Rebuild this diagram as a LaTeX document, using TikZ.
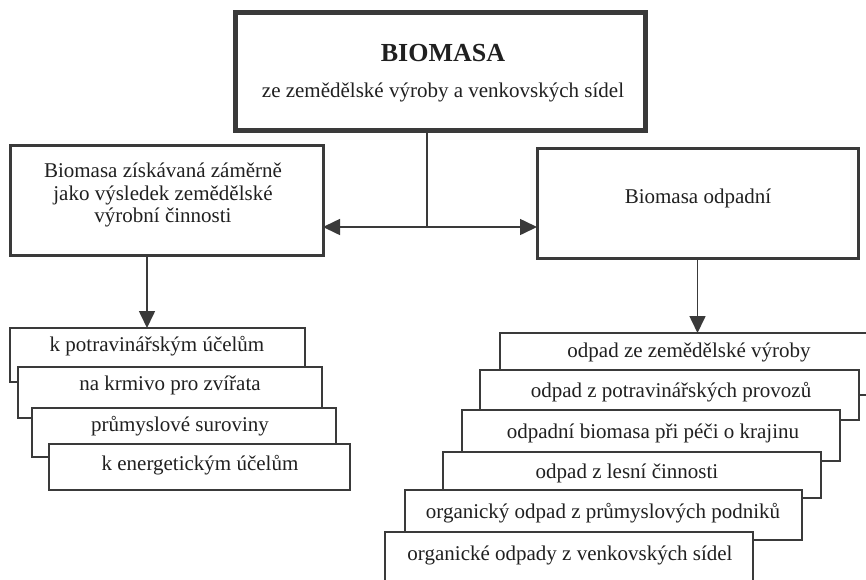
\documentclass[tikz,border=0pt]{standalone}
\usepackage{fontspec}
\setmainfont{Liberation Serif}
\usetikzlibrary{arrows.meta}
\definecolor{ink}{HTML}{3A3A3A}
\definecolor{txt}{HTML}{202020}
\tikzset{
  boxbase/.style={rectangle, draw=ink, fill=white, inner sep=0pt, outer sep=0pt},
  topbox/.style={boxbase, line width=5pt},
  midbox/.style={boxbase, line width=3pt},
  stackbox/.style={boxbase, line width=1.4pt},
  lbl/.style={text=txt, inner sep=0pt, font=\fontsize{21}{22.5}\selectfont, align=center},
  conn/.style={draw=ink, line width=1.6pt},
  arr/.style={conn, -{Triangle[length=17pt,width=16pt]}}
}
\newcommand{\boxat}[6]{\node[#1, minimum width={#4-#2}, minimum height={#5-#3}] (#6) at ({(#2+#4)/2},{(#3+#5)/2}) {};}
\begin{document}
\begin{tikzpicture}[x=1pt,y=-1pt]
\useasboundingbox[fill=white] (0,0) rectangle (866,579);
% top box
\boxat{topbox}{235}{12}{645}{130}{top}
\node[lbl, font=\fontsize{26}{28}\selectfont\bfseries] (topt) at (443,53) {BIOMASA};
\node[lbl] (tops) at (443,92) {ze zemědělské výroby a venkovských sídel};
% middle boxes
\boxat{midbox}{10}{145}{323}{255}{L}
\node[lbl] (Lt) at (163,195) {Biomasa získávaná záměrně\\jako výsledek zemědělské\\výrobní činnosti};
\boxat{midbox}{537}{148}{858}{258}{R}
\node[lbl] (Rt) at (698,198) {Biomasa odpadní};
% junction
\coordinate (J) at (427,227);
\draw[conn] (top.south -| J) -- (J);
\draw[arr] (J) -- (J -| L.east);
\draw[arr] (J) -- (J -| R.west);
% left stack
\boxat{stackbox}{10}{328}{305}{382}{l1}
\node[lbl] (l1t) at (157,346) {k potravinářským účelům};
\boxat{stackbox}{18}{367}{322}{418}{l2}
\node[lbl] (l2t) at (170,385) {na krmivo pro zvířata};
\boxat{stackbox}{32}{408}{336}{457}{l3}
\node[lbl] (l3t) at (180,426) {průmyslové suroviny};
\boxat{stackbox}{49}{444}{350}{490}{l4}
\node[lbl] (l4t) at (200,465) {k energetickým účelům};
% right stack
\boxat{stackbox}{500}{333}{890}{395}{r1}
\node[lbl] (r1t) at (689,352) {odpad ze zemědělské výroby};
\boxat{stackbox}{480}{370}{859}{420}{r2}
\node[lbl] (r2t) at (671,392) {odpad z potravinářských provozů};
\boxat{stackbox}{462}{410}{840}{461}{r3}
\node[lbl] (r3t) at (653,433) {odpadní biomasa při péči o krajinu};
\boxat{stackbox}{443}{452}{821}{498}{r4}
\node[lbl] (r4t) at (627,473) {odpad z lesní činnosti};
\boxat{stackbox}{405}{490}{802}{540}{r5}
\node[lbl] (r5t) at (603,513) {organický odpad z průmyslových podniků};
\boxat{stackbox}{385}{532}{753}{600}{r6}
\node[lbl] (r6t) at (570,555) {organické odpady z venkovských sídel};
% down arrows
\coordinate (aL) at (147,0);
\draw[arr] (L.south -| aL) -- (l1.north -| aL);
\draw[arr] (R.south) -- (r1.north -| R.south);
\end{tikzpicture}
\end{document}
